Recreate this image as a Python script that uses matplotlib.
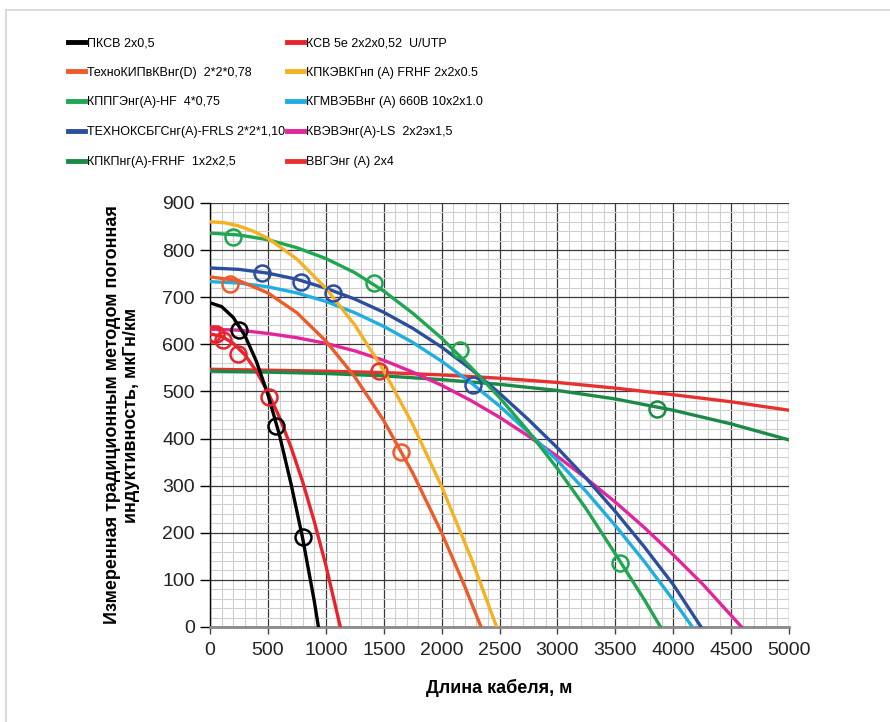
import matplotlib
matplotlib.use('Agg')
from matplotlib import pyplot as plt
from matplotlib.lines import Line2D
from matplotlib.ticker import MultipleLocator

plt.rcParams['font.family'] = ['Liberation Sans', 'DejaVu Sans']

# Названия кабелей (порядок легенды: сначала левая колонка, потом правая)
names = ['ПКСВ 2x0,5', 'ТехноКИПвКВнг(D)  2*2*0,78', 'КППГЭнг(А)-HF  4*0,75',
         'ТЕХНОКСБГСнг(А)-FRLS 2*2*1,10', 'КПКПнг(А)-FRHF  1x2x2,5',
         'КСВ 5е 2x2x0,52  U/UTP', 'КПКЭВКГнп (А) FRHF 2x2x0.5', 'КГМВЭБВнг (А) 660В 10x2x1.0',
         'КВЭВЭнг(А)-LS  2x2эx1,5', 'ВВГЭнг (А) 2x4']
colors = ['#000000', '#ee5a2a', '#1fa651', '#2b4f9e', '#1b8a47',
          '#e8232b', '#f6b120', '#1eaee0', '#e2259a', '#e8312f']

# Кривые (длина, м ; индуктивность, мкГн/км)
pksv_x = [0, 100, 200, 300, 400, 500, 600, 700, 800, 900, 936]
pksv_y = [688, 680, 657, 619, 564, 493, 407, 303, 188, 55, 0]

tehnokip_x = [0, 250, 500, 750, 1000, 1250, 1500, 1750, 2000, 2200, 2340]
tehnokip_y = [743, 735, 709, 667, 607, 531, 438, 327, 200, 86, 0]

kppg_x = [0, 250, 500, 750, 1000, 1250, 1500, 1750, 2000, 2250, 2500, 2750, 3000, 3250, 3500, 3750, 3890]
kppg_y = [836, 832, 822, 805, 782, 752, 713, 666, 613, 552, 487, 415, 336, 250, 155, 58, 0]

tehnoks_x = [0, 250, 500, 750, 1000, 1250, 1500, 1750, 2000, 2250, 2500, 2750, 3000, 3250, 3500, 3750, 4000, 4240]
tehnoks_y = [762, 759, 751, 738, 719, 696, 668, 634, 594, 548, 496, 440, 380, 315, 245, 170, 90, 0]

kpkp_x = [0, 500, 1000, 1500, 2000, 2500, 3000, 3500, 4000, 4500, 5000]
kpkp_y = [543, 541, 538, 533, 525, 515, 502, 484, 460, 431, 397]

ksv_x = [0, 100, 200, 300, 400, 500, 600, 700, 800, 900, 1000, 1125]
ksv_y = [622, 617, 602, 578, 543, 498, 445, 381, 308, 224, 131, 0]

kpkevkg_x = [0, 125, 250, 375, 500, 750, 1000, 1250, 1500, 1750, 2000, 2250, 2475]
kpkevkg_y = [860, 858, 851, 840, 825, 781, 719, 641, 544, 430, 298, 149, 0]

kgmveb_x = [0, 250, 500, 750, 1000, 1250, 1500, 1750, 2000, 2250, 2500, 2750, 3000, 3250, 3500, 3750, 4000, 4165]
kgmveb_y = [733, 730, 722, 709, 691, 667, 638, 604, 564, 519, 469, 413, 353, 287, 215, 139, 57, 0]

kvev_x = [0, 250, 500, 750, 1000, 1250, 1500, 1750, 2000, 2250, 2500, 2750, 3000, 3250, 3500, 3750, 4000, 4250, 4590]
kvev_y = [632, 630, 623, 614, 602, 586, 566, 541, 513, 481, 445, 405, 362, 315, 265, 211, 153, 92, 0]

vvg_x = [0, 500, 1000, 1500, 2000, 2500, 3000, 3500, 4000, 4500, 5000]
vvg_y = [547, 545, 543, 540, 535, 528, 519, 507, 493, 478, 460]

# Измеренные точки (кружки)
pksv_px = [253, 570, 800]
pksv_py = [630, 426, 191]
tehnokip_px = [173, 1647]
tehnokip_py = [727, 372]
kppg_px = [202, 1417, 2155, 3541]
kppg_py = [828, 731, 587, 136]
tehnoks_px = [446, 783, 1060, 2272]
tehnoks_py = [752, 732, 708, 514]
kpkp_px = [3857]
kpkp_py = [462]
ksv_px = [15, 55, 115, 245, 505]
ksv_py = [622, 622, 610, 580, 488]
vvg_px = [1457]
vvg_py = [543]

curves = [(pksv_x, pksv_y), (tehnokip_x, tehnokip_y), (kppg_x, kppg_y), (tehnoks_x, tehnoks_y),
          (kpkp_x, kpkp_y), (ksv_x, ksv_y), (kpkevkg_x, kpkevkg_y), (kgmveb_x, kgmveb_y),
          (kvev_x, kvev_y), (vvg_x, vvg_y)]
points = [(pksv_px, pksv_py), (tehnokip_px, tehnokip_py), (kppg_px, kppg_py), (tehnoks_px, tehnoks_py),
          (kpkp_px, kpkp_py), (ksv_px, ksv_py), ([], []), ([], []), ([], []), (vvg_px, vvg_py)]

fig = plt.figure(figsize=(8.9, 7.22), dpi=100)
ax = fig.add_axes([0.236, 0.1316, 0.6506, 0.5873])

# порядок рисования примерно как в оригинале
draw_order = [9, 4, 8, 7, 3, 2, 6, 1, 5, 0]
for i in draw_order:
    ax.plot(curves[i][0], curves[i][1], color=colors[i], lw=2.4, solid_joinstyle='round', zorder=3)
for i in draw_order:
    if len(points[i][0]):
        ax.plot(points[i][0], points[i][1], 'o', ms=11.5, mfc='none', mec=colors[i], mew=1.8, zorder=4)

ax.set_xlim(0, 5000)
ax.set_ylim(0, 900)
ax.xaxis.set_major_locator(MultipleLocator(500))
ax.xaxis.set_minor_locator(MultipleLocator(100))
ax.yaxis.set_major_locator(MultipleLocator(100))
ax.yaxis.set_minor_locator(MultipleLocator(20))
ax.grid(True, which='minor', color='#cfcfcf', lw=0.8, zorder=0)
ax.grid(True, which='major', color='#3a3a3a', lw=0.9, zorder=1)
ax.set_axisbelow(True)

for s in ['top', 'right']:
    ax.spines[s].set_visible(False)
ax.spines['left'].set_color('black')
ax.spines['left'].set_linewidth(1.0)
ax.spines['bottom'].set_color('#8a8a8a')
ax.spines['bottom'].set_linewidth(2.0)

ax.tick_params(which='minor', length=0)
ax.tick_params(axis='x', which='major', direction='out', length=5, width=1, color='#444444',
               labelsize=14, pad=6, labelcolor='#222222')
ax.tick_params(axis='y', which='major', direction='out', length=7, width=1, color='black',
               labelsize=14, pad=4, labelcolor='#222222')

ax.set_xlabel('Длина кабеля, м', fontsize=13, fontweight='bold', labelpad=14)
ax.set_ylabel('Измеренная традиционным методом погонная\nиндуктивность, мкГн/км', fontsize=13,
              fontweight='bold', labelpad=16, linespacing=1.1)

# Легенда в две колонки
handles = [Line2D([], [], color=c, lw=3.5) for c in colors]
leg_kw = dict(frameon=False, fontsize=9.0, handlelength=1.35, handletextpad=0.15,
              labelspacing=1.42, borderaxespad=0, borderpad=0, loc='upper left')
leg1 = fig.legend(handles[:5], names[:5], bbox_to_anchor=(68 / 890, 1 - 37 / 722), **leg_kw)
leg2 = fig.legend(handles[5:], names[5:], bbox_to_anchor=(287 / 890, 1 - 37 / 722), **leg_kw)

# тонкая рамка рисунка
fig.add_artist(Line2D([6 / 890, 1], [1 - 10 / 722, 1 - 10 / 722], transform=fig.transFigure,
                      color='#dcdcdc', lw=1.5))
fig.add_artist(Line2D([6 / 890, 6 / 890], [0, 1 - 10 / 722], transform=fig.transFigure,
                      color='#dcdcdc', lw=1.5))

fig.savefig('out.png', dpi=100)
